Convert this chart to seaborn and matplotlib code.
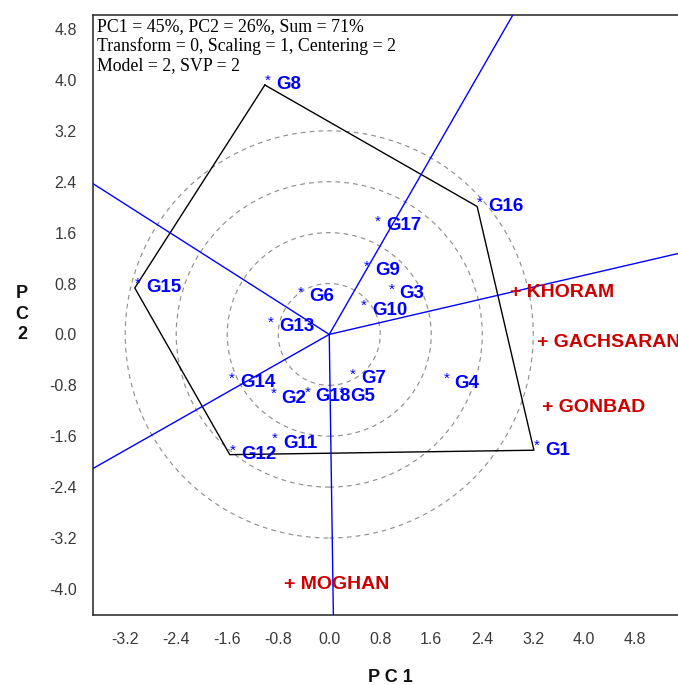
import numpy as np
import pandas as pd
import matplotlib
matplotlib.use("Agg")
import matplotlib.pyplot as plt
from matplotlib.patches import Circle
import seaborn as sns

# ---------------- data ----------------
genotypes = ["G1", "G2", "G3", "G4", "G5", "G6", "G7", "G8", "G9", "G10",
             "G11", "G12", "G13", "G14", "G15", "G16", "G17", "G18"]
geno_pc1 = [3.21, -0.92, 0.93, 1.79, 0.15, -0.49, 0.32, -1.01, 0.54, 0.50,
            -0.90, -1.56, -0.96, -1.57, -3.05, 2.32, 0.72, -0.39]
geno_pc2 = [-1.82, -1.00, 0.64, -0.77, -0.98, 0.59, -0.70, 3.92, 1.00, 0.38,
            -1.71, -1.89, 0.12, -0.76, 0.73, 2.01, 1.71, -0.98]

environments = ["KHORAM", "GACHSARAN", "GONBAD", "MOGHAN"]
env_pc1 = [2.91, 3.34, 3.42, -0.63]
env_pc2 = [0.66, -0.13, -1.15, -3.93]

hull_order = ["G8", "G16", "G1", "G12", "G15"]
circle_radii = [0.8, 1.6, 2.4, 3.2]

xticks = [-3.2, -2.4, -1.6, -0.8, 0.0, 0.8, 1.6, 2.4, 3.2, 4.0, 4.8]
yticks = [-4.0, -3.2, -2.4, -1.6, -0.8, 0.0, 0.8, 1.6, 2.4, 3.2, 4.0, 4.8]

info_lines = ["PC1 = 45%, PC2 = 26%, Sum = 71%",
              "Transform = 0, Scaling = 1, Centering = 2",
              "Model = 2, SVP = 2"]

geno = pd.DataFrame({"name": genotypes, "PC1": geno_pc1, "PC2": geno_pc2})
env = pd.DataFrame({"name": environments, "PC1": env_pc1, "PC2": env_pc2})

# ---------------- style ----------------
sns.set_style("white")
plt.rcParams["font.family"] = ["Liberation Sans", "DejaVu Sans"]

BLUE = "#0000FF"
RED = "#CC0000"

W, H = 678, 685
fig = plt.figure(figsize=(W / 100, H / 100), dpi=100)
ax_l, ax_r, ax_t, ax_b = 92.7, 678.0, 15.0, 615.0
ax = fig.add_axes([ax_l / W, (H - ax_b) / H, (ax_r - ax_l) / W, (ax_b - ax_t) / H])
ax.set_xlim(-3.71, 5.47)
ax.set_ylim(-4.41, 5.02)

# dashed circles
for r in circle_radii:
    ax.add_patch(Circle((0, 0), r, fill=False, edgecolor="#909090",
                        linewidth=0.85, linestyle=(0, (4, 3.5)), zorder=1))

# polygon (convex hull)
hull = geno.set_index("name").loc[hull_order].reset_index()
hull_closed = pd.concat([hull, hull.iloc[[0]]], ignore_index=True)
sns.lineplot(data=hull_closed, x="PC1", y="PC2", sort=False, estimator=None,
             color="black", linewidth=1.0, ax=ax, zorder=2)

# rays perpendicular to polygon sides
pts = hull[["PC1", "PC2"]].to_numpy()
for i in range(len(pts)):
    a = pts[i]
    b = pts[(i + 1) % len(pts)]
    d = b - a
    t = -np.dot(a, d) / np.dot(d, d)
    foot = a + t * d
    u = foot / np.linalg.norm(foot)
    ax.plot([0, u[0] * 20], [0, u[1] * 20], color=BLUE, linewidth=1.0, zorder=3)

# genotype markers & labels
for _, row in geno.iterrows():
    ax.annotate("*", (row.PC1, row.PC2), xytext=(2.2, 3.0), textcoords="offset points",
                ha="center", va="center", color=BLUE, fontsize=11, zorder=5)
    ax.annotate(row["name"], (row.PC1, row.PC2), xytext=(8.0, 0), textcoords="offset points",
                ha="left", va="center", color=BLUE, fontsize=13.5, fontweight="bold", zorder=5)

# environment markers & labels
for _, row in env.iterrows():
    ax.annotate("+ " + row["name"], (row.PC1, row.PC2), xytext=(-3.8, 0),
                textcoords="offset points", ha="left", va="center", color=RED,
                fontsize=14, fontweight="bold", zorder=5, annotation_clip=False)

# info text
ax.text(0.007, 0.995, "\n".join(info_lines), transform=ax.transAxes, ha="left", va="top",
        fontsize=12.8, family=["Liberation Serif", "DejaVu Serif"], color="black",
        linespacing=1.15, zorder=6)

# axes styling
ax.set_xticks(xticks)
ax.set_yticks(yticks)
ax.set_xticklabels([f"{v:.1f}" for v in xticks])
ax.set_yticklabels([f"{v:.1f}" for v in yticks])
ax.tick_params(axis="both", direction="out", length=8.5, width=1.0, color="#333333",
               labelsize=11.5, labelcolor="#3a3a3a")
ax.tick_params(axis="x", pad=4)
ax.tick_params(axis="y", pad=3)
for side in ["left", "top", "bottom"]:
    ax.spines[side].set_visible(True)
    ax.spines[side].set_color("#333333")
    ax.spines[side].set_linewidth(1.2)
ax.spines["right"].set_visible(False)
ax.set_xlabel("")
ax.set_ylabel("")
ax.grid(False)

fig.text(390 / W, 1 - 677 / H, "P C 1", ha="center", va="center",
         fontsize=13, fontweight="bold", color="#111111")
fig.text(22 / W, 1 - 314 / H, "P\nC\n2", ha="center", va="center",
         fontsize=13, fontweight="bold", color="#111111", linespacing=1.3)

fig.savefig("out.png", dpi=100)
